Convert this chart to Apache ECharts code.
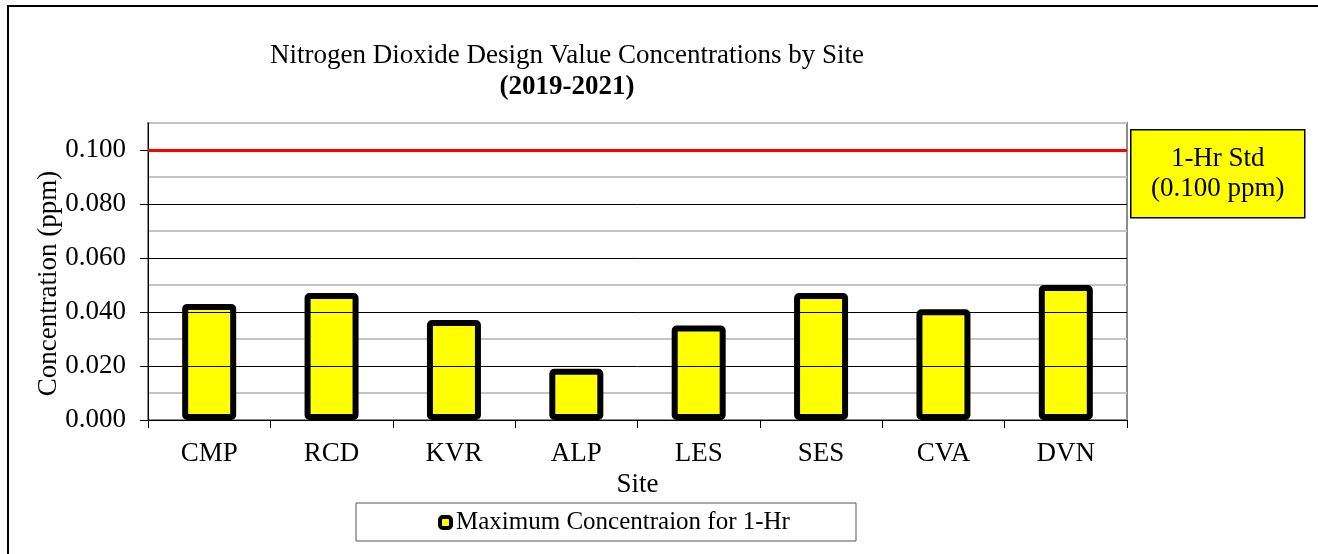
<!DOCTYPE html>
<html>
<head>
<meta charset="utf-8">
<title>Nitrogen Dioxide Design Value Concentrations by Site</title>
<script src="https://cdn.jsdelivr.net/npm/echarts@6/dist/echarts.min.js"></script>
<style>
  html, body { margin: 0; padding: 0; background: #fff; }
  #chart { width: 1318px; height: 554px; }
</style>
</head>
<body>
<div id="chart"></div>
<script>
// sites and 3-yr design values (ppm)
const sites = ['CMP', 'RCD', 'KVR', 'ALP', 'LES', 'SES', 'CVA', 'DVN'];
const maxConc = [0.043, 0.047, 0.037, 0.019, 0.035, 0.047, 0.041, 0.050];
const hourStd = 0.100;
const yTicks = [0, 0.02, 0.04, 0.06, 0.08, 0.10];

const serif = '"Liberation Serif", "DejaVu Serif", serif';
const fs = 27;

let chart = echarts.init(document.getElementById('chart'), null, { renderer: 'canvas' });

let option = {
  backgroundColor: '#fff',
  animation: false,
  textStyle: { fontFamily: serif, color: '#000' },
  title: {
    text: 'Nitrogen Dioxide Design Value Concentrations by Site',
    subtext: '(2019-2021)',
    left: 562,
    top: 37,
    textAlign: 'center',
    itemGap: 5,
    textStyle: { fontFamily: serif, fontSize: fs, fontWeight: 'normal', color: '#000' },
    subtextStyle: { fontFamily: serif, fontSize: fs, fontWeight: 'bold', color: '#000' },
  },
  legend: {
    left: 438,
    top: 510,
    padding: 0,
    itemWidth: 11,
    itemHeight: 11,
    itemGap: 4,
    icon: 'roundRect',
    itemStyle: { color: '#ffff00', borderColor: '#000', borderWidth: 4 },
    textStyle: { fontFamily: serif, fontSize: 25, color: '#000', padding: [0, 0, 0, 0] },
    data: ['Maximum Concentraion for 1-Hr'],
  },
  grid: {
    left: 148,
    right: 191,
    top: 123,
    bottom: 134,
    show: true,
    borderColor: '#8c8c8c',
    borderWidth: 2,
  },
  xAxis: {
    type: 'category',
    data: sites,
    name: 'Site',
    nameLocation: 'middle',
    nameGap: 46,
    nameTextStyle: { fontFamily: serif, fontSize: fs, color: '#000' },
    axisLine: { lineStyle: { color: '#000', width: 1 } },
    axisTick: { show: true, inside: false, length: 8, lineStyle: { color: '#000' } },
    axisLabel: { margin: 20, fontFamily: serif, fontSize: fs, color: '#000' },
  },
  yAxis: [
    {
      // labelled axis: major ticks + black gridlines
      type: 'value',
      min: 0,
      max: 0.11,
      interval: 0.01,
      name: 'Concentration (ppm)',
      nameLocation: 'middle',
      nameGap: 86,
      nameMoveOverlap: false,
      nameTextStyle: { fontFamily: serif, fontSize: fs, color: '#000', padding: [0, 24, 0, 0] },
      axisLine: { show: true, lineStyle: { color: '#000', width: 1 } },
      axisTick: { show: true, length: 8, customValues: yTicks, lineStyle: { color: '#000' } },
      axisLabel: {
        customValues: yTicks,
        margin: 22,
        fontFamily: serif,
        fontSize: fs,
        color: '#000',
        formatter: v => v.toFixed(3),
      },
      splitLine: { show: true, lineStyle: { color: '#000', width: 1 } },
      z: 3,
    },
    {
      // helper axis for the grey minor gridlines
      type: 'value',
      min: 0,
      max: 0.11,
      interval: 0.01,
      position: 'left',
      axisLine: { show: false },
      axisTick: { show: false },
      axisLabel: { show: false },
      splitLine: { show: true, lineStyle: { color: ['transparent', '#c4c4c4'], width: 2 } },
    },
  ],
  series: [
    {
      name: 'Maximum Concentraion for 1-Hr',
      type: 'bar',
      data: maxConc,
      barWidth: 54,
      itemStyle: { color: '#ffff00', borderColor: '#000', borderWidth: 6, borderRadius: 2 },
      markLine: {
        silent: true,
        symbol: ['none', 'none'],
        label: { show: false },
        lineStyle: { color: '#ff0000', width: 3, type: 'solid' },
        data: [{ yAxis: hourStd }],
      },
    },
  ],
  graphic: [
    // outer chart frame
    {
      type: 'rect',
      shape: { x: 8, y: 6, width: 1400, height: 700 },
      style: { fill: 'none', stroke: '#000', lineWidth: 2 },
      silent: true,
    },
    // legend frame
    {
      type: 'rect',
      shape: { x: 356, y: 503, width: 500, height: 38 },
      style: { fill: 'none', stroke: '#555', lineWidth: 1 },
      silent: true,
    },
    // standard label box
    {
      type: 'group',
      left: 1130,
      top: 129,
      children: [
        {
          type: 'rect',
          shape: { x: 0, y: 0, width: 174, height: 88 },
          style: { fill: '#ffff00', stroke: '#000', lineWidth: 1.5 },
        },
        {
          type: 'text',
          x: 87,
          y: 44,
          style: {
            text: '1-Hr Std\n(0.100 ppm)',
            fontFamily: serif,
            fontSize: fs,
            lineHeight: 30,
            fill: '#000',
            align: 'center',
            verticalAlign: 'middle',
          },
        },
      ],
    },
  ],
};

chart.setOption(option);
</script>
</body>
</html>
